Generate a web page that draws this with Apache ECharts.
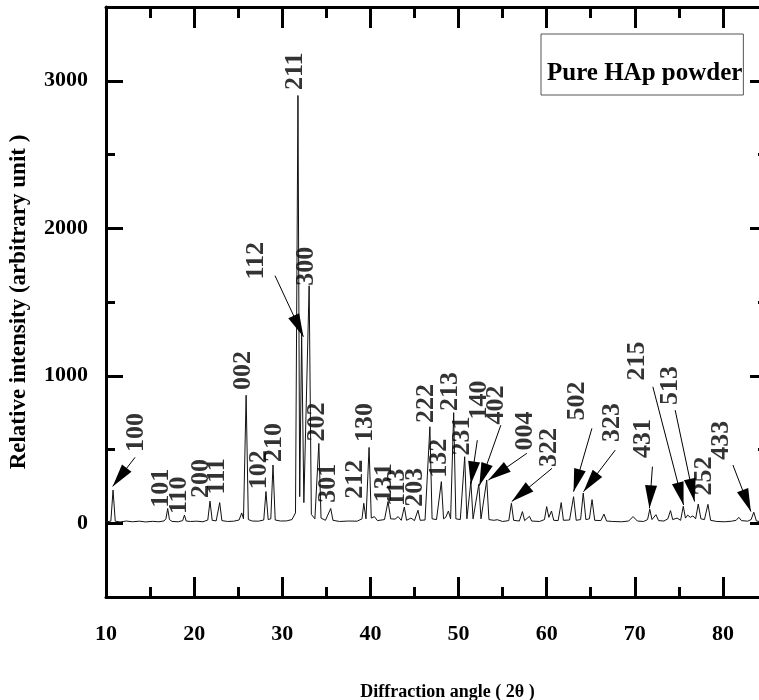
<!DOCTYPE html>
<html>
<head>
<meta charset="utf-8">
<script src="https://cdn.jsdelivr.net/npm/echarts@6/dist/echarts.min.js"></script>
<style>
  html, body { margin: 0; padding: 0; background: #fff; }
  .xrd-container { width: 759px; height: 700px; }
</style>
</head>
<body>
<div id="xrdChart" class="xrd-container"></div>
<script>
// 衍射图谱数据 (2θ, 强度)
const twoTheta = [
  10.0, 10.55, 10.8, 11.05, 11.6, 12.3, 13.0, 13.8, 14.5, 15.3,
  16.0, 16.6, 16.8, 17.0, 17.2, 17.5, 18.2, 18.7, 18.9, 19.1,
  19.6, 20.3, 21.0, 21.55, 21.8, 22.05, 22.5, 22.9, 23.15, 23.8,
  24.5, 25.1, 25.4, 25.6, 25.9, 26.15, 26.6, 27.3, 27.9, 28.15,
  28.4, 28.7, 28.95, 29.2, 29.8, 30.5, 31.1, 31.5, 31.78, 31.98,
  32.2, 32.45, 33.05, 33.3, 33.7, 34.15, 34.4, 34.9, 35.5, 35.75,
  36.5, 37.5, 38.5, 39.05, 39.25, 39.5, 39.85, 40.1, 40.45, 40.8,
  41.6, 42.0, 42.3, 42.8, 43.15, 43.5, 43.85, 44.1, 44.6, 45.0,
  45.4, 45.65, 46.2, 46.75, 47.0, 47.5, 48.05, 48.3, 48.55, 48.85,
  49.1, 49.45, 49.7, 50.2, 50.7, 50.95, 51.4, 51.65, 52.3, 52.55,
  53.2, 53.45, 54.0, 54.4, 55.0, 55.7, 56.0, 56.25, 56.9, 57.25,
  57.5, 58.05, 58.3, 59.2, 59.75, 60.0, 60.25, 60.55, 60.8, 61.3,
  61.65, 61.9, 62.6, 63.05, 63.35, 63.85, 64.15, 64.45, 64.85, 65.15,
  65.45, 66.15, 66.5, 66.8, 67.5, 68.5, 69.3, 69.8, 70.3, 71.0,
  71.45, 71.7, 71.95, 72.4, 72.7, 73.3, 73.75, 74.05, 74.3, 74.8,
  75.2, 75.5, 75.75, 76.0, 76.3, 76.6, 76.9, 77.2, 77.5, 77.9,
  78.3, 78.6, 79.3, 80.2, 81.0, 81.5, 81.8, 82.1, 82.8, 83.2,
  83.5, 83.8, 84.4, 85.0
];
const intensity = [
  10, 14, 225, 14, 9, 15, 10, 14, 9, 13,
  10, 16, 30, 100, 25, 12, 10, 18, 55, 15,
  12, 14, 10, 22, 150, 20, 16, 140, 18, 12,
  14, 22, 70, 30, 868, 25, 15, 14, 22, 215,
  25, 30, 395, 22, 15, 16, 25, 70, 2900, 180,
  1290, 140, 1610, 60, 30, 541, 35, 20, 100, 20,
  12, 15, 14, 30, 135, 30, 514, 35, 45, 18,
  25, 147, 30, 28, 45, 20, 110, 20, 35, 18,
  88, 20, 22, 654, 30, 25, 282, 30, 40, 83,
  30, 750, 30, 25, 451, 30, 282, 30, 264, 30,
  293, 25, 20, 24, 12, 18, 135, 20, 15, 79,
  18, 47, 15, 12, 25, 113, 40, 83, 20, 18,
  140, 20, 22, 180, 20, 25, 205, 25, 30, 160,
  20, 18, 62, 15, 12, 10, 15, 45, 15, 12,
  25, 95, 25, 58, 18, 15, 30, 86, 25, 35,
  20, 115, 35, 55, 40, 50, 30, 130, 30, 25,
  128, 20, 12, 10, 14, 20, 40, 18, 14, 25,
  75, 15, 10, 12
];

// 晶面指数标注
const hklNames = ["100", "101", "110", "200", "111", "002", "102", "210", "112", "211",
  "300", "202", "301", "212", "130", "131", "113", "203", "222", "132",
  "213", "231", "140", "402", "004", "322", "502", "323", "431", "215",
  "513", "252", "433"];
const hklAngle = [13.4, 16.3, 18.34, 20.78, 22.66, 25.6, 27.42, 29.13, 27.0, 31.51,
  32.7, 34.0, 35.26, 38.32, 39.45, 41.6, 43.1, 45.07, 46.38, 47.85,
  49.1, 50.47, 52.4, 54.32, 57.6, 60.34, 63.52, 67.5, 71.0, 70.33,
  74.07, 77.93, 79.86];
const hklIntensity = [616, 237, 190, 304, 318, 1035, 362, 548, 1780, 3065,
  1742, 687, 271, 298, 683, 274, 244, 244, 812, 440,
  893, 592, 836, 802, 626, 514, 829, 683, 575, 1100,
  934, 321, 562];

// 箭头 (起点 -> 峰顶)
const arrowFrom = [[13.3, 447], [29.18, 1678], [52.13, 563], [54.8, 665], [57.75, 474],
  [60.6, 372], [65.13, 643], [67.78, 496], [72.0, 384], [72.05, 925], [74.58, 767], [81.13, 395]];
const arrowTo = [[10.76, 250], [32.4, 1265], [51.39, 264], [52.36, 255], [53.39, 293],
  [56.04, 147], [63.05, 214], [64.18, 214], [71.66, 101], [75.53, 124], [76.78, 147], [83.17, 79]];

// 刻度
const xMajor = [10, 20, 30, 40, 50, 60, 70, 80];
const xMinor = [15, 25, 35, 45, 55, 65, 75];
const yMajor = [0, 1000, 2000, 3000];
const yMinor = [500, 1500, 2500];

const serif = "Liberation Serif";
const black = "#000";
// 实心三角箭头, 尖端在符号中心
const arrowHead = "path://M1,0L1,0M1,2L2,4L0,4Z";

function xAxisOf(position, ticks, len, showLine, showLabel) {
  return {
    type: "value",
    position: position,
    min: 10,
    max: 85,
    axisLine: { show: showLine, onZero: false, lineStyle: { color: black, width: 3 } },
    axisTick: { show: true, inside: true, length: len, customValues: ticks,
      lineStyle: { color: black, width: 3 } },
    axisLabel: { show: showLabel, customValues: xMajor, margin: 26, color: black,
      fontFamily: serif, fontWeight: "bold", fontSize: 22,
      formatter: (v) => String(v) },
    splitLine: { show: false },
  };
}
function yAxisOf(position, ticks, len, showLine, showLabel) {
  return {
    type: "value",
    position: position,
    min: -500,
    max: 3500,
    axisLine: { show: showLine, onZero: false, lineStyle: { color: black, width: 3 } },
    axisTick: { show: true, inside: true, length: len, customValues: ticks,
      lineStyle: { color: black, width: 3 } },
    axisLabel: { show: showLabel, customValues: yMajor, margin: 18, color: black,
      fontFamily: serif, fontWeight: "bold", fontSize: 22,
      formatter: (v) => String(v) },
    splitLine: { show: false },
  };
}

const xMain = xAxisOf("bottom", xMajor, 20, true, true);
xMain.name = "Diffraction angle ( 2θ )";
xMain.nameLocation = "middle";
xMain.nameGap = 86;
xMain.nameTextStyle = { color: black, fontFamily: serif, fontWeight: "bold", fontSize: 18,
  padding: [0, 0, 0, 22] };

const yMain = yAxisOf("left", yMajor, 17, true, true);
yMain.name = "Relative intensity (arbitrary unit )";
yMain.nameLocation = "middle";
yMain.nameGap = 75;
yMain.nameTextStyle = { color: black, fontFamily: serif, fontWeight: "bold", fontSize: 23 };

const pattern = twoTheta.map((t, i) => [t, intensity[i]]);
const hklPoints = hklNames.map((n, i) => ({ name: n, value: [hklAngle[i], hklIntensity[i]] }));
const arrows = arrowFrom.map((p, i) => [{ coord: p }, { coord: arrowTo[i] }]);

const option = {
  animation: false,
  backgroundColor: "#fff",
  grid: { left: 106, right: -8, top: 7, bottom: 103, outerBoundsMode: "none", containLabel: false },
  legend: {
    left: 541,
    top: 34,
    data: ["Pure HAp powder"],
    itemWidth: 0,
    itemHeight: 0,
    borderWidth: 1,
    borderColor: "#555",
    padding: [27, 1, 9, 0],
    selectedMode: false,
    textStyle: { color: black, fontFamily: serif, fontWeight: "bold", fontSize: 25 },
  },
  xAxis: [
    xMain,
    xAxisOf("bottom", xMinor, 10, false, false),
    xAxisOf("top", xMajor, 21, true, false),
    xAxisOf("top", xMinor, 11, false, false),
  ],
  yAxis: [
    yMain,
    yAxisOf("left", yMinor, 9, false, false),
    yAxisOf("right", yMajor, 17, true, false),
    yAxisOf("right", yMinor, 9, false, false),
  ],
  series: [
    {
      name: "Pure HAp powder",
      type: "line",
      data: pattern,
      showSymbol: false,
      symbol: "none",
      lineStyle: { color: "#111", width: 1 },
      itemStyle: { color: "#111" },
      silent: true,
    },
    {
      name: "hkl",
      type: "scatter",
      data: hklPoints,
      symbolSize: 0,
      silent: true,
      label: {
        show: true,
        position: "inside",
        formatter: "{b}",
        rotate: 90,
        align: "center",
        verticalAlign: "middle",
        color: black,
        fontFamily: serif,
        fontWeight: "bold",
        fontSize: 26,
      },
      markLine: {
        silent: true,
        symbol: ["none", arrowHead],
        symbolSize: [12, 46],
        label: { show: false },
        lineStyle: { color: black, width: 1, type: "solid" },
        itemStyle: { color: black },
        emphasis: { disabled: true },
        data: arrows,
      },
    },
  ],
};

const chartObj = echarts.init(document.getElementById("xrdChart"));
chartObj.setOption(option);
</script>
</body>
</html>
